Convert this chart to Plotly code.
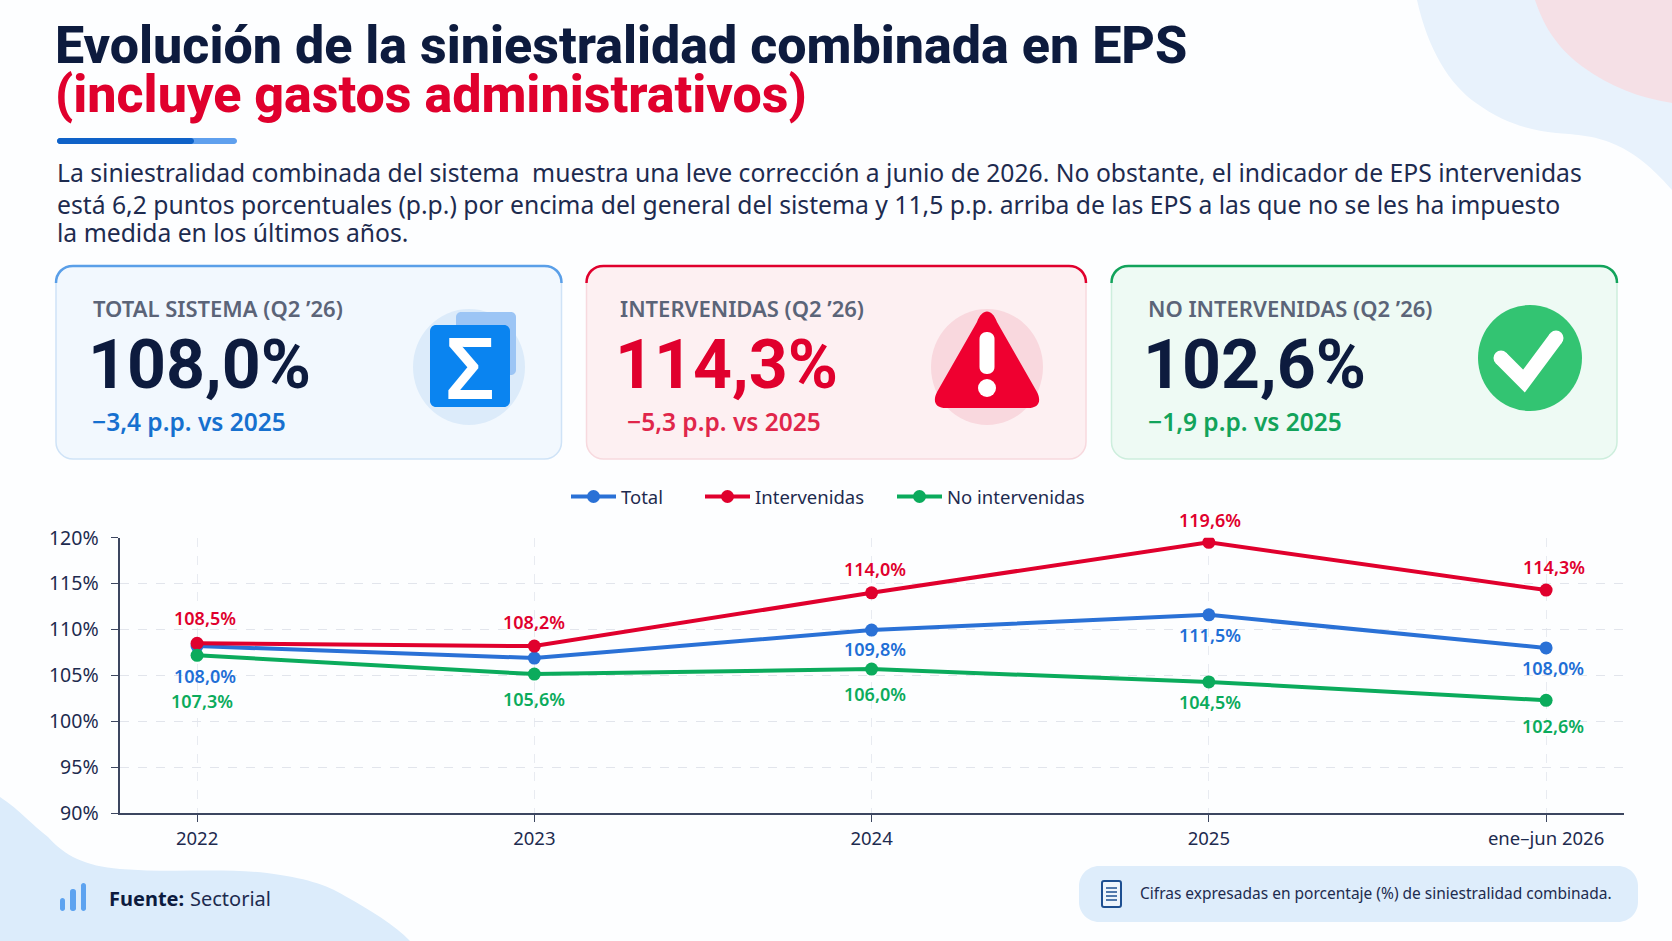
import plotly.graph_objects as go

W, H = 1672, 941

# ---- datos ----
categories = ['2022', '2023', '2024', '2025', 'ene–jun 2026']
total = [108.2, 106.9, 109.95, 111.6, 108.0]
intervenidas = [108.5, 108.2, 114.0, 119.5, 114.3]
no_intervenidas = [107.2, 105.15, 105.7, 104.3, 102.3]

# etiquetas tal como aparecen impresas en el gráfico
total_labels = ['108,0%', '', '109,8%', '111,5%', '108,0%']
intervenidas_labels = ['108,5%', '108,2%', '114,0%', '119,6%', '114,3%']
no_intervenidas_labels = ['107,3%', '105,6%', '106,0%', '104,5%', '102,6%']

card_titles = ['TOTAL SISTEMA (Q2 ’26)', 'INTERVENIDAS (Q2 ’26)', 'NO INTERVENIDAS (Q2 ’26)']
card_values = ['108,0%', '114,3%', '102,6%']
card_deltas = ['−3,4 p.p. vs 2025', '−5,3 p.p. vs 2025', '−1,9 p.p. vs 2025']

title_1 = 'Evolución de la siniestralidad combinada en EPS'
title_2 = '(incluye gastos administrativos)'
intro_lines = [
    'La siniestralidad combinada del sistema  muestra una leve corrección a junio de 2026. No obstante, el indicador de EPS intervenidas',
    'está 6,2 puntos porcentuales (p.p.) por encima del general del sistema y 11,5 p.p. arriba de las EPS a las que no se les ha impuesto',
    'la medida en los últimos años.',
]

# colores
NAVY = '#0d1b3e'
INK = '#1d2b4f'
BLUE = '#2a71d6'
RED = '#e0002d'
GREEN = '#0bab5c'
FONT = 'Noto Sans'
TITLE_FONT = 'Roboto'

shapes = []
annotations = []


def px(x):
    return x / W


def py(y):
    return 1 - y / H


def path_from(points):
    """Convierte una lista de comandos en píxeles a un path en coordenadas paper."""
    out = []
    for cmd in points:
        if cmd[0] == 'Z':
            out.append('Z')
            continue
        vals = []
        for i in range(1, len(cmd), 2):
            vals.append(f'{px(cmd[i]):.5f},{py(cmd[i + 1]):.5f}')
        out.append(cmd[0] + ' ' + ' '.join(vals))
    return ' '.join(out)


def add_path(points, fill=None, line=None, width=0, layer='below'):
    shapes.append(dict(
        type='path', xref='paper', yref='paper', layer=layer,
        path=path_from(points),
        fillcolor=fill if fill else 'rgba(0,0,0,0)',
        line=dict(color=line if line else 'rgba(0,0,0,0)', width=width),
    ))


def round_rect(x0, y0, x1, y1, r, fill=None, line=None, width=0):
    k = r * 0.45
    add_path([
        ('M', x0 + r, y0), ('L', x1 - r, y0),
        ('C', x1 - k, y0, x1, y0 + k, x1, y0 + r), ('L', x1, y1 - r),
        ('C', x1, y1 - k, x1 - k, y1, x1 - r, y1), ('L', x0 + r, y1),
        ('C', x0 + k, y1, x0, y1 - k, x0, y1 - r), ('L', x0, y0 + r),
        ('C', x0, y0 + k, x0 + k, y0, x0 + r, y0), ('Z',),
    ], fill, line, width)


def ellipse(cx, cy, rx, ry, fill):
    shapes.append(dict(
        type='circle', xref='paper', yref='paper', layer='below',
        x0=px(cx - rx), x1=px(cx + rx), y0=py(cy + ry), y1=py(cy - ry),
        fillcolor=fill, line=dict(width=0),
    ))


def label(x, y, text, size, color, family=FONT, weight=400, anchor='left'):
    annotations.append(dict(
        xref='paper', yref='paper', x=px(x), y=py(y), text=text,
        showarrow=False, xanchor=anchor, yanchor='middle',
        borderpad=0, borderwidth=0,
        font=dict(family=family, size=size, color=color, weight=weight),
    ))


# ---- fondo decorativo ----
add_path([('M', 1417, 0), ('C', 1428, 50, 1450, 85, 1476, 103),
          ('C', 1505, 124, 1530, 130, 1556, 133), ('C', 1590, 136, 1625, 135, 1672, 190),
          ('L', 1672, 0), ('Z',)], fill='#e8f2fc')
add_path([('M', 1535, 0), ('C', 1545, 30, 1560, 50, 1583, 67),
          ('C', 1610, 87, 1640, 98, 1672, 103), ('L', 1672, 0), ('Z',)], fill='#f5e0e6')
add_path([('M', 0, 797), ('C', 20, 810, 32, 825, 48, 837), ('C', 65, 856, 85, 866, 120, 869),
          ('C', 170, 873, 225, 868, 267, 873), ('C', 305, 878, 325, 884, 345, 896),
          ('C', 370, 910, 395, 925, 410, 941), ('L', 0, 941), ('Z',)], fill='#dcecfb')

# ---- título ----
label(55, 45, title_1, 52, NAVY, TITLE_FONT, 800)
label(55, 94, title_2, 52, RED, TITLE_FONT, 800)
round_rect(57, 138, 237, 144, 3, fill='#5fa0ee')
round_rect(57, 138, 194, 144, 3, fill='#0f62c8')
for y, line in zip([172, 204, 232], intro_lines):
    label(57, y, line, 24.7, INK)

# ---- tarjetas ----
card_x = [(56, 561.5), (586.5, 1086), (1111.5, 1617)]
card_fill = ['#f2f8fe', '#fdf0f2', '#eefaf4']
card_border = ['#cfe3f7', '#f7d9de', '#cdeedd']
card_top = ['#5a9fe8', '#e0002d', '#12a35b']
value_color = [NAVY, RED, NAVY]
delta_color = ['#1670cf', '#e0264a', '#12a35b']
text_x = [93, 620, 1148]
delta_x = [92, 627, 1148]
for i in range(3):
    x0, x1 = card_x[i]
    y0, y1 = 266, 459
    round_rect(x0, y0, x1, y1, 17, fill=card_fill[i], line=card_border[i], width=1.5)
    add_path([('M', x0, y0 + 17), ('C', x0, y0 + 7, x0 + 7, y0, x0 + 17, y0),
              ('L', x1 - 17, y0), ('C', x1 - 7, y0, x1, y0 + 7, x1, y0 + 17)],
             line=card_top[i], width=2.5)
    label(text_x[i], 308, card_titles[i], 22, '#5b6478', weight=600)
    label(text_x[i] - 5, 365, card_values[i], 68, value_color[i], TITLE_FONT, 700)
    label(delta_x[i], 421, card_deltas[i], 24.5, delta_color[i], weight=600)

# icono sigma
ellipse(469, 367, 56, 58, '#dcebfa')
round_rect(456, 312, 516, 375, 5, fill='#9cc5f5')
round_rect(430, 325, 510, 407, 6, fill='#0a84f0')
label(470, 366, 'Σ', 84, 'white', FONT, 600, anchor='center')

# icono alerta
ellipse(987, 367, 56, 58, '#f9d8de')
add_path([('M', 977, 322), ('C', 982, 308, 992, 308, 997, 322), ('L', 1037, 392),
          ('C', 1042, 402, 1038, 408, 1028, 408), ('L', 946, 408),
          ('C', 936, 408, 932, 402, 937, 392), ('Z',)], fill='#ef0030')
round_rect(979.5, 332, 994.5, 374, 7, fill='white')
ellipse(987, 388, 9, 9, 'white')

# icono check
ellipse(1530, 358, 52, 53, '#33c472')
add_path([('M', 1501, 358), ('L', 1524, 381), ('L', 1556, 338)], line='white', width=15)
ellipse(1501, 358, 7.5, 7.5, 'white')
ellipse(1556, 338, 7.5, 7.5, 'white')

# ---- pie ----
round_rect(60, 898, 65, 911, 2.5, fill='#5da3f0')
round_rect(70, 889, 76, 911, 2.5, fill='#5da3f0')
round_rect(81, 883, 86, 911, 2.5, fill='#5da3f0')
label(109, 898, 'Fuente:', 20, NAVY, weight=700)
label(190, 898, 'Sectorial', 20, INK)
round_rect(1079, 866, 1638, 922, 20, fill='#deedfb')
round_rect(1102, 881, 1121, 907, 2, fill='#eef5fc', line='#1d4f91', width=2)
for yy in [888, 892, 896, 900]:
    add_path([('M', 1106, yy), ('L', 1117, yy)], line='#1d4f91', width=1.5)
label(1140, 893, 'Cifras expresadas en porcentaje (%) de siniestralidad combinada.', 15.5, INK)

# ---- gráfico ----
fig = go.Figure()
series = [
    ('Total', total, BLUE, total_labels, [8, 0, 3, 1, 7], [-30, 0, -19, -20, -20], '#1f6fd6', 'legend'),
    ('Intervenidas', intervenidas, RED, intervenidas_labels, [8, 0, 3, 1, 8], [25, 24, 24, 22, 23], RED, 'legend2'),
    ('No intervenidas', no_intervenidas, GREEN, no_intervenidas_labels, [5, 0, 3, 1, 7], [-46, -25, -25, -20, -26], GREEN, 'legend3'),
]
for name, values, color, texts, dxs, dys, text_color, legend_id in series:
    fig.add_trace(go.Scatter(
        x=categories, y=values, name=name, mode='lines+markers',
        line=dict(color=color, width=4),
        marker=dict(color=color, size=13),
        legend=legend_id,
    ))
    # en eje de categorías el texto '2022' se leería como índice: se usa la posición
    for i, (val, txt, dx, dy) in enumerate(zip(values, texts, dxs, dys)):
        if not txt:
            continue
        annotations.append(dict(
            x=i, y=val, xref='x', yref='y', text=txt, showarrow=False,
            xshift=dx, yshift=dy,
            font=dict(family=FONT, size=18, color=text_color, weight=600),
        ))


def legend_at(x):
    return dict(
        orientation='h', x=x / W, y=1 - 497 / H, xanchor='left', yanchor='middle',
        bgcolor='rgba(0,0,0,0)', itemwidth=45,
        font=dict(family=FONT, size=18.5, color=INK),
    )


fig.update_layout(
    width=W, height=H,
    margin=dict(l=0, r=0, t=0, b=0, autoexpand=False),
    paper_bgcolor='#fdfeff',
    plot_bgcolor='rgba(0,0,0,0)',
    shapes=shapes,
    annotations=annotations,
    showlegend=True,
    legend=legend_at(566),
    legend2=legend_at(700),
    legend3=legend_at(892),
    xaxis=dict(
        domain=[119.5 / W, 1624 / W],
        type='category', range=[-0.23, 4.231],
        showline=True, linecolor='#3c4660', linewidth=2,
        ticks='outside', ticklen=7, tickcolor='#3c4660', tickwidth=1,
        showgrid=True, gridcolor='#e8ebf1', griddash='dash', gridwidth=1,
        tickfont=dict(family=FONT, size=18.5, color=INK),
        zeroline=False,
    ),
    yaxis=dict(
        domain=[1 - 813.3 / H, 1 - 537.7 / H],
        range=[90, 120], tick0=90, dtick=5, ticksuffix='%',
        showline=True, linecolor='#3c4660', linewidth=2,
        ticks='outside', ticklen=7, tickcolor='#3c4660', tickwidth=1, ticklabelstandoff=8,
        showgrid=True, gridcolor='#e2e5ec', griddash='dash', gridwidth=1,
        tickfont=dict(family=FONT, size=19.5, color=INK),
        zeroline=False,
    ),
)

# el navegador deja 8 px de margen en body: se quita para que la figura ocupe toda la ventana
fig.write_html("out.html", config=dict(displayModeBar=False),
               post_script="document.body.style.margin='0';document.documentElement.style.overflow='hidden';")
